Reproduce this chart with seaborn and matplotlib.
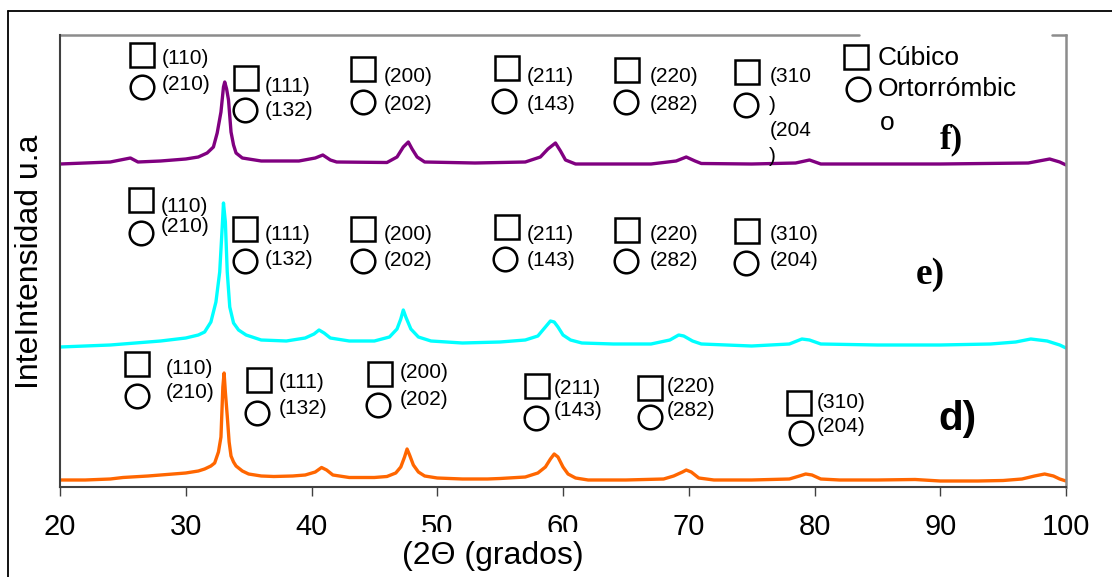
import pandas as pd
import matplotlib
matplotlib.use('Agg')
import matplotlib.pyplot as plt
import seaborn as sns
from matplotlib.lines import Line2D
from matplotlib.patches import Rectangle

# Difractogramas (2theta en grados, intensidad u.a.)
d_2theta = [20, 22, 24, 25, 27, 29, 30, 31, 31.5, 32.0, 32.3, 32.6, 32.8, 32.95, 33.05, 33.15,
            33.3, 33.45, 33.6, 33.8, 34.0, 34.5, 35, 36, 37, 38.5, 39.5, 40.3, 40.8, 41.2, 41.7,
            43, 45, 46, 46.7, 47.1, 47.4, 47.6, 47.8, 48.1, 48.5, 49, 50, 52, 54, 55, 57, 58,
            58.6, 59.0, 59.3, 59.6, 60.0, 60.4, 61, 62, 65, 68, 68.8, 69.5, 69.8, 70.2, 70.8,
            72, 75, 78, 78.8, 79.3, 79.8, 80.5, 82, 85, 88, 90, 93, 95, 96.5, 97.5, 98.3, 99,
            99.5, 100]
d_int = [7, 7, 8, 9.5, 11, 13, 14, 16, 18, 21, 24, 35, 50, 100, 114, 95,
         71, 45, 31, 25, 21, 16, 13, 11, 10.5, 11, 12, 15, 19.5, 17, 12,
         9.5, 9.5, 10.5, 14, 20, 30, 38, 32, 22, 15, 11, 9, 8, 8, 8.5, 10, 14,
         20, 28, 33, 30, 20, 13, 9, 7, 7, 8, 11, 15, 17, 15, 9,
         7, 7, 8, 11, 13, 12, 8, 7, 7, 7.5, 6, 6, 6.5, 8, 11, 13, 11,
         8, 6]

e_2theta = [20, 22, 24, 26, 28, 30, 31, 31.5, 32.0, 32.4, 32.7, 32.9, 33.0, 33.15, 33.3, 33.5,
            33.8, 34.2, 34.8, 36, 38, 39.5, 40.2, 40.6, 41.0, 41.5, 43, 45, 46.2, 46.8, 47.1,
            47.3, 47.5, 47.9, 48.5, 49.5, 52, 55, 57, 58, 58.6, 59.0, 59.3, 59.6, 60.0, 60.6,
            61.5, 64, 67, 68.5, 69.2, 69.6, 70.3, 71, 75, 78, 79, 79.6, 80.5, 85, 90, 94, 96,
            97.2, 98.5, 99.5, 100]
e_int = [140, 141, 142, 144, 146, 149, 152, 155, 165, 185, 215, 260, 284, 265, 215, 180,
         164, 157, 152, 147, 146, 149, 153, 157, 154, 149, 146, 146, 150, 158, 168,
         177, 170, 158, 150, 146, 144, 145, 147, 151, 160, 166, 165, 160, 152, 147,
         144, 143, 143, 147, 152, 151, 146, 143, 141, 143, 148, 147, 143, 142, 142, 143, 145,
         148, 146, 142, 139]

f_2theta = [20, 22, 24, 25.6, 26.2, 28, 30, 31, 31.7, 32.2, 32.5, 32.8, 33.0, 33.1, 33.25, 33.4,
            33.6, 33.8, 34.0, 34.5, 36, 39, 40.3, 40.9, 41.5, 42, 46, 46.8, 47.3, 47.7, 48.0,
            48.4, 49, 53, 57, 58.2, 58.8, 59.4, 59.8, 60.2, 61, 67, 69.0, 69.8, 70.5, 71, 75,
            78.5, 79.6, 80.5, 90, 97, 98.7, 99.5, 100]
f_int = [323, 324, 325, 329, 325, 326, 328, 330, 334, 340, 354, 375, 400, 405, 398, 387,
         355, 342, 334, 329, 326, 326, 329, 332, 327, 325, 324.5, 330, 340, 345, 338,
         330, 325, 324, 325, 330, 338, 344, 336, 327, 323, 323, 326, 330, 326, 323.5, 323,
         324, 327, 323, 323, 324, 328, 325, 322]

colores = {'d': '#FF6600', 'e': '#00FFFF', 'f': '#800080'}

# Indices de Miller: cuadro = cubico, circulo = ortorrombico
f_cuad = [(26.52, 432), (34.76, 409), (44.13, 418), (55.53, 419), (65.07, 417.5), (74.63, 415.5)]
f_circ = [(26.52, 400), (34.74, 377.5), (44.07, 384.8), (55.33, 386.5), (65.03, 384.8), (74.58, 382.5)]
f_txt = [('(110)', 28.08, 429), ('(210)', 28.08, 403), ('(111)', 36.29, 401), ('(132)', 36.29, 376),
         ('(200)', 45.71, 410), ('(202)', 45.71, 383), ('(211)', 57.09, 410), ('(143)', 57.09, 383),
         ('(220)', 66.89, 410), ('(282)', 66.89, 382.5), ('(310', 76.41, 410), (')', 76.41, 381.5),
         ('(204', 76.41, 356.5), (')', 76.41, 330)]

e_cuad = [(26.46, 287), (34.74, 258.3), (44.13, 258.3), (55.53, 259.7), (65.07, 257.3), (74.63, 256)]
e_circ = [(26.46, 254.3), (34.74, 226.3), (44.07, 226.3), (55.39, 227.7), (65.03, 226), (74.58, 223.7)]
e_txt = [('(110)', 27.99, 280), ('(210)', 27.99, 260), ('(111)', 36.29, 252), ('(132)', 36.29, 227.7),
         ('(200)', 45.71, 252), ('(202)', 45.71, 227), ('(211)', 57.09, 252), ('(143)', 57.09, 227),
         ('(220)', 66.89, 252), ('(282)', 66.89, 227), ('(310)', 76.41, 252), ('(204)', 76.41, 227)]

d_cuad = [(26.16, 123.4), (35.81, 107), (45.42, 113.5), (57.91, 101.2), (66.92, 99.3), (78.74, 83.7)]
d_circ = [(26.16, 90.6), (35.63, 74), (45.28, 82.4), (57.85, 69), (66.95, 69.8), (78.93, 53.6)]
d_txt = [('(110)', 28.4, 119), ('(210)', 28.4, 94.6), ('(111)', 37.38, 104), ('(132)', 37.38, 78),
         ('(200)', 47.01, 114.5), ('(202)', 47.01, 87.3), ('(211)', 59.25, 99), ('(143)', 59.25, 76),
         ('(220)', 68.23, 100.6), ('(282)', 68.23, 76), ('(310)', 80.2, 84), ('(204)', 80.2, 60)]

leyenda_cuad = (83.30, 430.5)
leyenda_circ = (83.46, 398.2)
leyenda_txt = [('Cúbico', 85.05, 429.2), ('Ortorrómbic', 85.05, 398.2), ('o', 85.21, 363.8)]

# %%

df = pd.concat([
    pd.DataFrame({'2theta': d_2theta, 'intensidad': d_int, 'muestra': 'd'}),
    pd.DataFrame({'2theta': e_2theta, 'intensidad': e_int, 'muestra': 'e'}),
    pd.DataFrame({'2theta': f_2theta, 'intensidad': f_int, 'muestra': 'f'}),
])

sns.set_style('white')
plt.rcParams['font.family'] = ['Liberation Sans', 'DejaVu Sans']
plt.rcParams['text.color'] = 'black'
plt.rcParams['xtick.color'] = 'black'

fig = plt.figure(figsize=(11.12, 5.77), dpi=100)
ax = fig.add_axes([60 / 1112, 90 / 577, 1006 / 1112, 452 / 577])

sns.lineplot(data=df, x='2theta', y='intensidad', hue='muestra', palette=colores,
             sort=False, legend=False, lw=2.4, ax=ax)

ax.set_xlim(20, 100)
ax.set_ylim(0, 452)
ax.set_xticks(range(20, 101, 10))
ax.set_xlabel('')
ax.set_ylabel('')
ax.tick_params(axis='x', direction='out', length=6.5, width=1, pad=12,
               labelsize=21, color='#404040', labelcolor='black', bottom=True)
ax.tick_params(axis='y', left=False, labelleft=False)

# bordes: izquierdo/inferior oscuros, superior/derecho grises
for lado in ['left', 'bottom']:
    ax.spines[lado].set_color('#404040')
    ax.spines[lado].set_linewidth(1.5)
ax.spines['right'].set_color('#8c8c8c')
ax.spines['right'].set_linewidth(1.8)
ax.spines['top'].set_visible(False)
# el recuadro de la leyenda tapa parte del borde superior
ax.plot([0, 0.794], [1, 1], color='#8c8c8c', lw=1.8, transform=ax.transAxes, clip_on=False)
ax.plot([0.986, 1], [1, 1], color='#8c8c8c', lw=1.8, transform=ax.transAxes, clip_on=False)

# cuadros, circulos e indices
for cuad, circ, txt in [(f_cuad, f_circ, f_txt), (e_cuad, e_circ, e_txt), (d_cuad, d_circ, d_txt)]:
    ax.plot([c[0] for c in cuad], [c[1] for c in cuad], 's', ms=17, mfc='none',
            mec='black', mew=1.8, clip_on=False)
    ax.plot([c[0] for c in circ], [c[1] for c in circ], 'o', ms=17, mfc='none',
            mec='black', mew=1.8, clip_on=False)
    for t, x, y in txt:
        ax.text(x, y, t, fontsize=15, ha='left', va='center')

ax.plot(*leyenda_cuad, 's', ms=17, mfc='none', mec='black', mew=1.8, clip_on=False)
ax.plot(*leyenda_circ, 'o', ms=17, mfc='none', mec='black', mew=1.8, clip_on=False)
for t, x, y in leyenda_txt:
    ax.text(x, y, t, fontsize=19, ha='left', va='center')

ax.text(90.90, 347, 'f)', fontsize=25, fontweight='bold', family='Liberation Serif',
        ha='center', va='center')
ax.text(89.18, 213, 'e)', fontsize=27, fontweight='bold', family='Liberation Serif',
        ha='center', va='center')
ax.text(91.39, 68.5, 'd)', fontsize=29, fontweight='bold', family=['Liberation Sans'],
        ha='center', va='center')

# titulos de ejes
fig.text(30 / 1112, 1 - 261.7 / 577, 'InteIntensidad u.a', fontsize=23, rotation=90,
         ha='center', va='center')
# el cuadro del titulo X tapa la parte baja de las etiquetas 50 y 60
tapa = Rectangle((398, 0), 194, 577 - 532, transform=None,
                 facecolor='white', edgecolor='none', zorder=5)
fig.add_artist(tapa)
fig.text(493 / 1112, 1 - 556 / 577, '(2Θ (grados)', fontsize=23, ha='center', va='center',
         zorder=6)

# marco exterior
fig.add_artist(Line2D([8 / 1112, 1], [1 - 11 / 577, 1 - 11 / 577], color='black', lw=1.3))
fig.add_artist(Line2D([8 / 1112, 8 / 1112], [0, 1 - 11 / 577], color='black', lw=1.3))

fig.savefig('out.png', dpi=100)
